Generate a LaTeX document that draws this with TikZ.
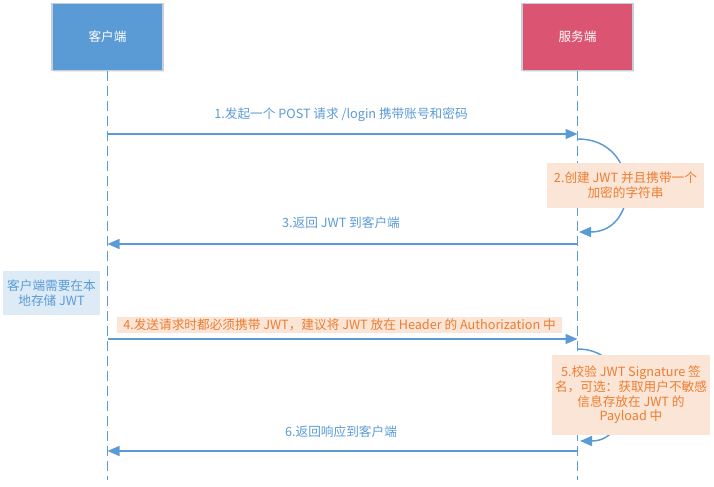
\documentclass[tikz,border=0pt]{standalone}
\usepackage{fontspec}
\setmainfont{Noto Sans CJK SC}
\usetikzlibrary{arrows.meta,shadows}
\definecolor{cblue}{HTML}{5B9BD5}
\definecolor{cred}{HTML}{DB5472}
\definecolor{cborder}{HTML}{C5CEDA}
\definecolor{corange}{HTML}{ED7D31}
\definecolor{cpeach}{HTML}{FBE5D6}
\definecolor{clblue}{HTML}{DDEBF7}
\tikzset{
  actor/.style={rectangle, draw=cborder, line width=0.8pt, minimum width=83.25pt, minimum height=50.25pt, text=white, font=\fontsize{9.5pt}{11pt}\selectfont, drop shadow={shadow xshift=0.8pt, shadow yshift=-0.8pt, opacity=0.15}},
  lifeline/.style={cblue, line width=0.9pt, dash pattern=on 7.5pt off 3.75pt},
  msg/.style={cblue, line width=1.1pt, -{Triangle[length=9pt,width=7.5pt]}},
  msglabel/.style={text=cblue, font=\fontsize{9.5pt}{11pt}\selectfont, inner sep=1pt},
  notebox/.style={fill=cpeach, text=corange, align=center, font=\fontsize{9.5pt}{11pt}\selectfont, inner sep=2pt},
  bluenote/.style={fill=clblue, text=cblue, align=center, font=\fontsize{9.5pt}{11pt}\selectfont, inner sep=2pt}
}
\begin{document}
\begin{tikzpicture}[x=0.75pt,y=-0.75pt]
\useasboundingbox (0,0) rectangle (714,486);
% actors
\node[actor, fill=cblue] (client) at (107.5,37) {客户端};
\node[actor, fill=cred] (server) at (577.5,37) {服务端};
% lifeline ends
\coordinate (cend) at (107.5,480);
\coordinate (send) at (577.5,480);
\draw[lifeline] (client.south) -- (cend);
\draw[lifeline] (server.south) -- (send);
% message coordinates
\coordinate (c1) at (107.5,134);
\coordinate (s1) at (577.5,134);
\coordinate (s2a) at (578,139);
\coordinate (s2b) at (579,232);
\coordinate (c3) at (107.5,244);
\coordinate (s3) at (577.5,244);
\coordinate (c4) at (107.5,339);
\coordinate (s4) at (577.5,339);
\coordinate (s5a) at (578,349);
\coordinate (s5b) at (580,441);
\coordinate (c6) at (107.5,451);
\coordinate (s6) at (577.5,451);
% 1
\draw[msg] (c1) -- (s1);
\node[msglabel] (l1) at (341,115) {1.发起一个 POST 请求 /login 携带账号和密码};
% 2
\draw[msg] (s2a) .. controls (641,139) and (641,232) .. (s2b);
\node[notebox, minimum width=117.75pt, minimum height=33.75pt] (n2) at (625.5,185.5) {2.创建 JWT 并且携带一个\\加密的字符串};
% 3
\draw[msg] (s3) -- (c3);
\node[msglabel] (l3) at (341,223) {3.返回 JWT 到客户端};
% note
\node[bluenote, minimum width=72.75pt, minimum height=33pt] (note) at (51.5,293) {客户端需要在本\\地存储 JWT};
% 4
\draw[msg] (c4) -- (s4);
\node[notebox, minimum width=333.75pt, minimum height=12pt, inner sep=1pt] (l4) at (339.5,325) {4.发送请求时都必须携带 JWT，建议将 JWT 放在 Header 的 Authorization 中};
% 5
\draw[msg] (s5a) .. controls (636,349) and (636,441) .. (s5b);
\node[notebox, minimum width=118.5pt, minimum height=60pt] (n5) at (631,395) {5.校验 JWT Signature 签\\名，可选：获取用户不敏感\\信息存放在 JWT 的\\Payload 中};
% 6
\draw[msg] (s6) -- (c6);
\node[msglabel] (l6) at (341,432) {6.返回响应到客户端};
\end{tikzpicture}
\end{document}
